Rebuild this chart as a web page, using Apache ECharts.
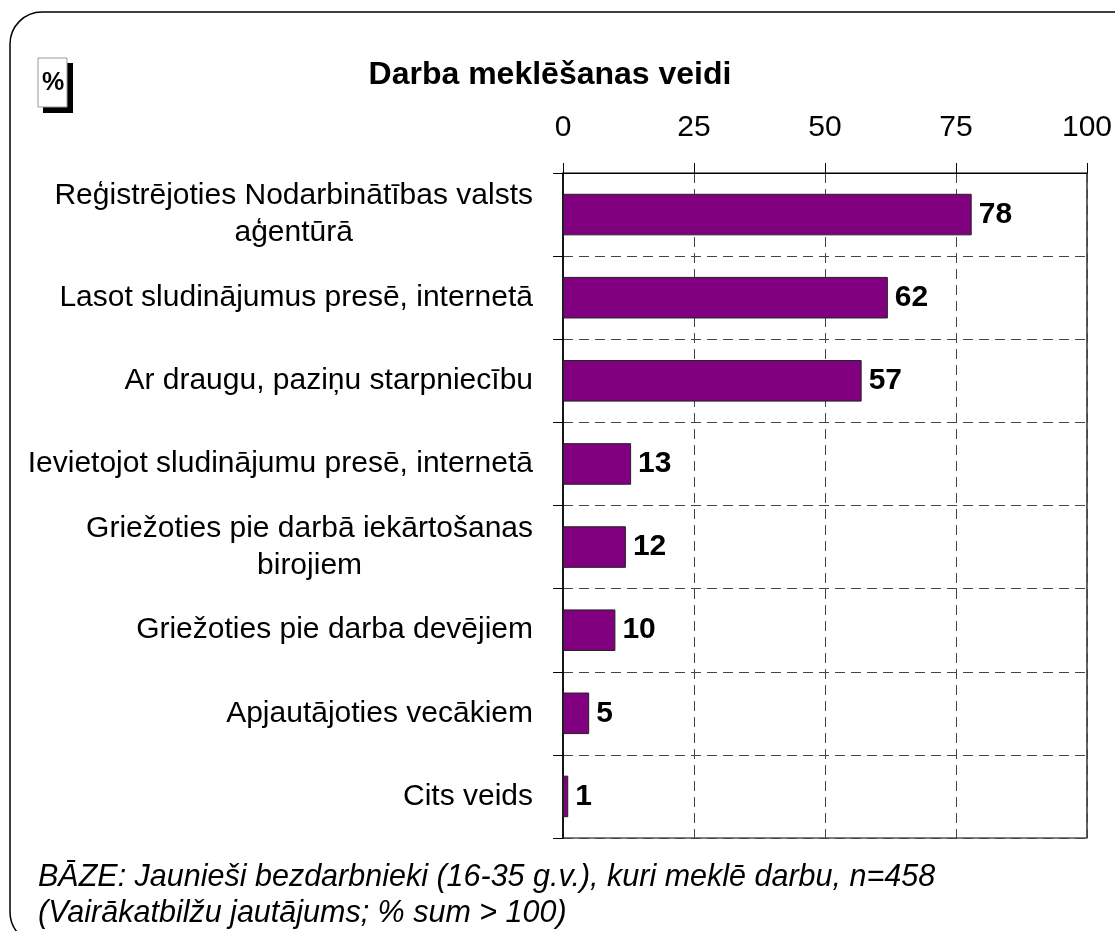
<!DOCTYPE html>
<html>
<head>
<meta charset="utf-8">
<script src="https://cdn.jsdelivr.net/npm/echarts@6/dist/echarts.min.js"></script>
<style>
  html, body { margin: 0; padding: 0; background: #fff; }
  #main { width: 1115px; height: 931px; }
</style>
</head>
<body>
<div id="main"></div>
<script>
// dati
var categories = [
  'Reģistrējoties Nodarbinātības valsts\naģentūrā',
  'Lasot sludinājumus presē, internetā',
  'Ar draugu, paziņu starpniecību',
  'Ievietojot sludinājumu presē, internetā',
  'Griežoties pie darbā iekārtošanas\nbirojiem',
  'Griežoties pie darba devējiem',
  'Apjautājoties vecākiem',
  'Cits veids'
];
var values = [78, 62, 57, 13, 12, 10, 5, 1];
var xTicks = [0, 25, 50, 75, 100];

var font = '"Liberation Sans", Arial, sans-serif';
var myChart = echarts.init(document.getElementById('main'));

myChart.setOption({
  animation: false,
  backgroundColor: '#fff',
  title: {
    text: 'Darba meklēšanas veidi',
    left: 545,
    top: 54,
    textAlign: 'center',
    textStyle: { fontFamily: font, fontSize: 32, fontWeight: 'bold', color: '#000' }
  },
  grid: {
    left: 563, right: 24, top: 173, bottom: 93,
    show: true, borderColor: '#000', borderWidth: 1.2, backgroundColor: 'transparent'
  },
  xAxis: {
    type: 'value',
    position: 'top',
    min: xTicks[0],
    max: xTicks[xTicks.length - 1],
    interval: 25,
    axisLine: { show: true, lineStyle: { color: '#000', width: 1.2 } },
    axisTick: { show: true, length: 10, lineStyle: { color: '#000' } },
    axisLabel: { margin: 30, fontFamily: font, fontSize: 30, color: '#000' },
    splitLine: { show: true, lineStyle: { color: '#444', type: [10, 6], width: 1 } }
  },
  yAxis: {
    type: 'category',
    inverse: true,
    data: categories,
    axisLine: { show: true, lineStyle: { color: '#000', width: 1.5 } },
    axisTick: { show: true, length: 10, interval: 0, lineStyle: { color: '#000' } },
    axisLabel: {
      margin: 30,
      interval: 0,
      fontFamily: font,
      fontSize: 30,
      color: '#000',
      lineHeight: 37,
      formatter: function (v) {
        return v.split('\n').map(function (s) { return '{c|' + s + '}'; }).join('\n');
      },
      rich: {
        c: { align: 'center', fontFamily: font, fontSize: 30, lineHeight: 37, color: '#000' }
      }
    },
    splitLine: { show: true, lineStyle: { color: '#444', type: [10, 6], width: 1 } }
  },
  series: [{
    type: 'bar',
    data: values,
    barCategoryGap: '50%',
    itemStyle: { color: '#800080', borderColor: '#222', borderWidth: 1 },
    label: {
      show: true,
      position: 'right',
      distance: 7,
      fontFamily: font,
      fontSize: 30,
      fontWeight: 'bold',
      color: '#000'
    }
  }],
  graphic: [
    {
      type: 'rect',
      shape: { x: 10, y: 12, width: 1140, height: 932, r: 32 },
      style: { fill: 'none', stroke: '#000', lineWidth: 1.5 },
      z: -1
    },
    {
      type: 'rect',
      shape: { x: 43, y: 63, width: 30, height: 50 },
      style: { fill: '#000' }
    },
    {
      type: 'rect',
      shape: { x: 38, y: 58, width: 29, height: 49 },
      style: { fill: '#fff', stroke: '#999', lineWidth: 1 }
    },
    {
      type: 'text',
      x: 53, y: 83,
      style: { text: '%', fontFamily: font, fontSize: 25, fontWeight: 'bold', fill: '#000', align: 'center', verticalAlign: 'middle' }
    },
    {
      type: 'text',
      x: 38, y: 860,
      style: {
        text: 'BĀZE: Jaunieši bezdarbnieki (16-35 g.v.), kuri meklē darbu, n=458\n(Vairākatbilžu jautājums; % sum > 100)',
        fontFamily: font, fontSize: 30.5, fontStyle: 'italic', lineHeight: 36, fill: '#000'
      }
    }
  ]
});
</script>
</body>
</html>
